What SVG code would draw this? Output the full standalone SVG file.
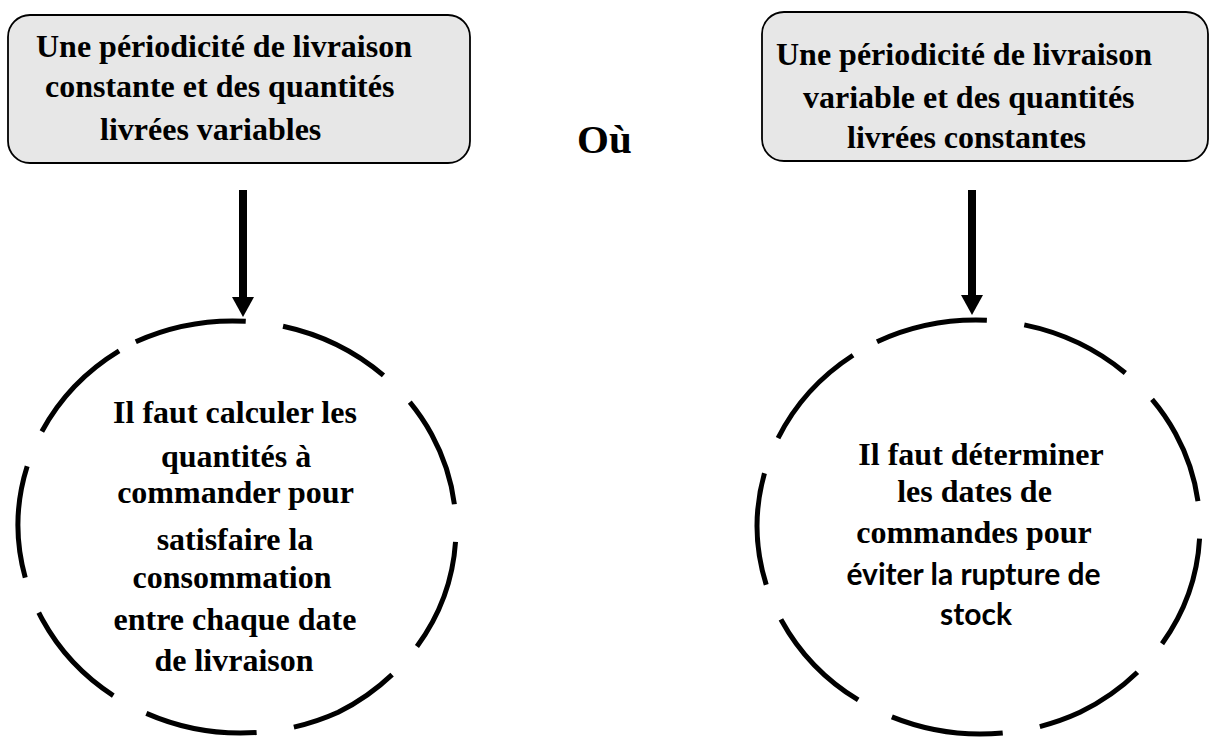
<svg xmlns="http://www.w3.org/2000/svg" width="1209" height="738" viewBox="0 0 1209 738">
  <defs>
    <style>
      .box { fill: #e7e7e7; stroke: #000; stroke-width: 1.8; }
      .serif { font-family: "Liberation Serif", "Times New Roman", serif; font-weight: bold; font-size: 32px; fill: #000; }
      .sans { font-family: Lato, "Open Sans", sans-serif; font-weight: bold; font-size: 30px; fill: #000; }
      .mid { text-anchor: middle; }
      .ring { fill: none; stroke: #000; stroke-width: 5; stroke-dasharray: 112.9 37.6; }
      .shaft { fill: none; stroke: #000; stroke-width: 8; }
    </style>
    <marker id="head" viewBox="0 -11 20 22" refX="0" refY="0" markerWidth="20" markerHeight="22" markerUnits="userSpaceOnUse" orient="auto">
      <path d="M0,-11 L20,0 L0,11 Z" fill="#000"/>
    </marker>
  </defs>

  <rect width="1209" height="738" fill="#fff"/>

  <!-- top-left condition -->
  <g id="cond-constant-period">
    <rect class="box" x="8" y="15" width="462" height="148" rx="22" ry="22"/>
    <text class="serif" x="36" y="57">Une périodicité de livraison</text>
    <text class="serif" x="45" y="97">constante et des quantités</text>
    <text class="serif" x="100" y="140">livrées variables</text>
  </g>

  <!-- top-right condition -->
  <g id="cond-variable-period">
    <rect class="box" x="762" y="12" width="446" height="149" rx="22" ry="22"/>
    <text class="serif" x="776" y="65">Une périodicité de livraison</text>
    <text class="serif" x="803" y="108">variable et des quantités</text>
    <text class="serif" x="847" y="148">livrées constantes</text>
  </g>

  <g id="or-label">
    <text class="serif" x="577" y="153" style="font-size:41px">Où</text>
  </g>

  <!-- bottom-left consequence: dashed ellipse, 9 dashes round -->
  <g id="result-quantities">
    <path class="ring" d="M135.8,341.7 A223,208 0 0 1 338.2,712.3 A223,208 0 0 1 135.8,341.7"/>
    <text class="serif mid" x="235" y="423">Il faut calculer les</text>
    <text class="serif mid" x="236" y="467">quantités à</text>
    <text class="serif mid" x="235.5" y="503">commander pour</text>
    <text class="serif mid" x="235" y="550">satisfaire la</text>
    <text class="serif mid" x="232" y="588">consommation</text>
    <text class="serif mid" x="235" y="630">entre chaque date</text>
    <text class="serif mid" x="234" y="671">de livraison</text>
  </g>

  <!-- bottom-right consequence -->
  <g id="result-dates">
    <path class="ring" style="stroke-dasharray:113 37.67" d="M877,341.7 A223.5,208 0 0 1 1080,712.3 A223.5,208 0 0 1 877,341.7"/>
    <text class="serif mid" x="981" y="465">Il faut déterminer</text>
    <text class="serif mid" x="974.5" y="502">les dates de</text>
    <text class="serif mid" x="974" y="543">commandes pour</text>
    <text class="sans mid" x="973.5" y="585">éviter la rupture de</text>
    <text class="sans mid" x="976" y="625">stock</text>
  </g>

  <!-- connectors -->
  <g id="connectors">
    <path class="shaft" d="M243,190 L243,297" marker-end="url(#head)"/>
    <path class="shaft" d="M972,190 L972,295" marker-end="url(#head)"/>
  </g>
</svg>
